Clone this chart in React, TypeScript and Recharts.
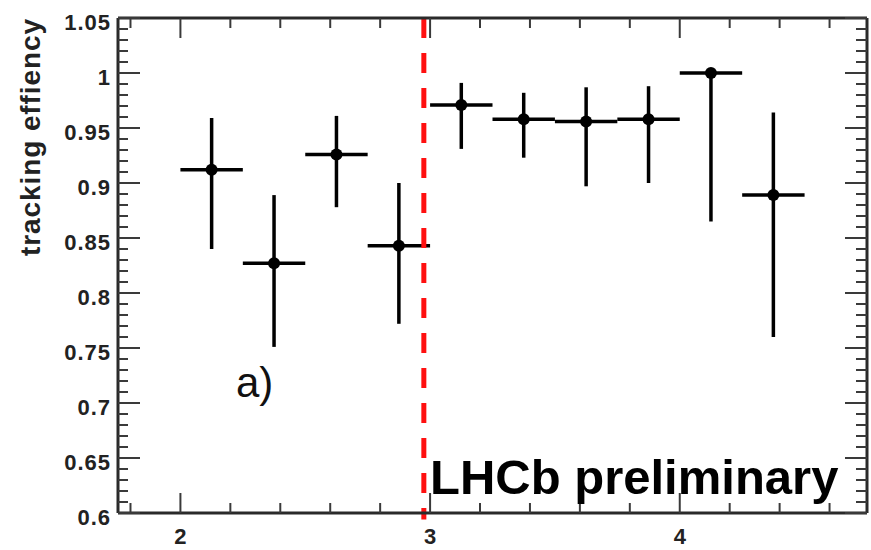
import React from 'react';
import {
  ComposedChart,
  Scatter,
  ErrorBar,
  XAxis,
  YAxis,
  ReferenceLine,
} from 'recharts';

// bin centres, half widths and measured efficiencies
const binCentres = [2.125, 2.375, 2.625, 2.875, 3.125, 3.375, 3.625, 3.875, 4.125, 4.375];
const binHalfWidths = [0.125, 0.125, 0.125, 0.125, 0.125, 0.125, 0.125, 0.125, 0.125, 0.125];
const efficiency = [0.912, 0.827, 0.926, 0.843, 0.971, 0.958, 0.956, 0.958, 1.0, 0.889];
const errLow = [0.072, 0.076, 0.048, 0.071, 0.04, 0.035, 0.059, 0.058, 0.135, 0.129];
const errHigh = [0.047, 0.062, 0.035, 0.057, 0.02, 0.024, 0.031, 0.03, 0, 0.075];

const xTicks = [1.8, 2, 2.2, 2.4, 2.6, 2.8, 3, 3.2, 3.4, 3.6, 3.8, 4, 4.2, 4.4, 4.6];
const yTicks = [
  0.6, 0.61, 0.62, 0.63, 0.64, 0.65, 0.66, 0.67, 0.68, 0.69,
  0.7, 0.71, 0.72, 0.73, 0.74, 0.75, 0.76, 0.77, 0.78, 0.79,
  0.8, 0.81, 0.82, 0.83, 0.84, 0.85, 0.86, 0.87, 0.88, 0.89,
  0.9, 0.91, 0.92, 0.93, 0.94, 0.95, 0.96, 0.97, 0.98, 0.99,
  1, 1.01, 1.02, 1.03, 1.04, 1.05,
];

const cutX = 2.975;

const data = binCentres.map((x, i) => ({
  x,
  y: efficiency[i],
  xErr: binHalfWidths[i],
  yErr: [errLow[i], errHigh[i]],
}));

const FONT = '"Liberation Sans", Arial, Helvetica, sans-serif';
const TICK_COLOR = '#3a3a3a';

// frame of the plot area (matches the chart margins / axis sizes below)
const PLOT_LEFT = 118;
const PLOT_TOP = 18;

const isMajorX = (v: number) => Math.abs(v - Math.round(v)) < 1e-6;
const isMajorY = (v: number) => Math.abs(v * 20 - Math.round(v * 20)) < 1e-6;

// bottom axis: ticks pointing up, plus the mirrored ticks on the top edge
const BottomTick = (props: any) => {
  const { x, y, payload } = props;
  const major = isMajorX(payload.value);
  const len = major ? 20 : 10;
  return (
    <g>
      <path d={`M${x},${y}v${-len}`} stroke={TICK_COLOR} strokeWidth={2} fill="none" />
      <path d={`M${x},${PLOT_TOP}v${len}`} stroke={TICK_COLOR} strokeWidth={2} fill="none" />
      {major && (
        <text x={x} y={y + 31} textAnchor="middle" fontFamily={FONT} fontWeight="bold" fontSize={22} fill="#222">
          {payload.value}
        </text>
      )}
    </g>
  );
};

const LeftTick = (props: any) => {
  const { x, y, payload } = props;
  const major = isMajorY(payload.value);
  if (!major) return <g />;
  return (
    <text
      x={x - 7}
      y={y + 12}
      textAnchor="end"
      fontFamily={FONT}
      fontWeight="bold"
      fontSize={22}
      letterSpacing={1}
      fill="#222"
    >
      {payload.value}
    </text>
  );
};

// right axis: ticks pointing left, plus the ticks on the left edge
const RightTick = (props: any) => {
  const { x, y, payload } = props;
  const major = isMajorY(payload.value);
  return (
    <g>
      <path d={`M${x},${y}h${major ? -22 : -11}`} stroke={TICK_COLOR} strokeWidth={2} fill="none" />
      <path d={`M${PLOT_LEFT},${y}h${major ? 22 : 10}`} stroke={TICK_COLOR} strokeWidth={2} fill="none" />
    </g>
  );
};

const Dot = (props: any) => <circle cx={props.cx} cy={props.cy} r={6} fill="#000" />;

const axisLine = { stroke: '#2a2a2a', strokeWidth: 3 };

export default function App() {
  return (
    <div style={{ position: 'absolute', left: 0, top: 0, width: 871, height: 550, background: '#fff' }}>
      <ComposedChart width={871} height={550} data={data} margin={{ top: 17, right: 3, bottom: 0, left: 0 }}>
        <XAxis
          type="number"
          dataKey="x"
          domain={[1.75, 4.75]}
          ticks={xTicks}
          interval={0}
          height={37}
          tickSize={0}
          tickMargin={0}
          tickLine={false}
          axisLine={axisLine}
          tick={<BottomTick />}
          allowDataOverflow
        />
        <XAxis
          xAxisId="top"
          orientation="top"
          type="number"
          domain={[1.75, 4.75]}
          ticks={xTicks}
          height={1}
          tickLine={false}
          axisLine={axisLine}
          tick={false}
          allowDataOverflow
        />
        <YAxis
          type="number"
          dataKey="y"
          domain={[0.6, 1.05]}
          ticks={yTicks}
          interval={0}
          width={118}
          tickSize={0}
          tickMargin={0}
          tickLine={false}
          axisLine={axisLine}
          tick={<LeftTick />}
          allowDataOverflow
        />
        <YAxis
          yAxisId="right"
          orientation="right"
          type="number"
          domain={[0.6, 1.05]}
          ticks={yTicks}
          interval={0}
          width={1}
          tickSize={0}
          tickMargin={0}
          tickLine={false}
          axisLine={axisLine}
          tick={<RightTick />}
          allowDataOverflow
        />
        <Scatter data={data} dataKey="y" shape={<Dot />} isAnimationActive={false}>
          <ErrorBar dataKey="xErr" direction="x" width={0} stroke="#000" strokeWidth={3.5} />
          <ErrorBar dataKey="yErr" direction="y" width={0} stroke="#000" strokeWidth={3.5} />
        </Scatter>
        <ReferenceLine
          segment={[
            { x: cutX, y: 1.05 },
            { x: cutX, y: 0.594 },
          ]}
          ifOverflow="visible"
          stroke="#ff1010"
          strokeWidth={5}
          strokeDasharray="20 15"
        />
      </ComposedChart>
      <svg
        width={871}
        height={550}
        style={{ position: 'absolute', left: 0, top: 0, pointerEvents: 'none' }}
      >
        <text
          x={40}
          y={137}
          transform="rotate(-90, 40, 137)"
          textAnchor="middle"
          fontFamily={FONT}
          fontWeight="bold"
          fontSize={28}
          letterSpacing={0.9}
          fill="#222"
        >
          tracking effiency
        </text>
        <text x={236} y={397} fontFamily={FONT} fontSize={42} fill="#111">
          a)
        </text>
        <text x={430} y={494} fontFamily={FONT} fontWeight="bold" fontSize={49} fill="#000">
          LHCb preliminary
        </text>
      </svg>
    </div>
  );
}
